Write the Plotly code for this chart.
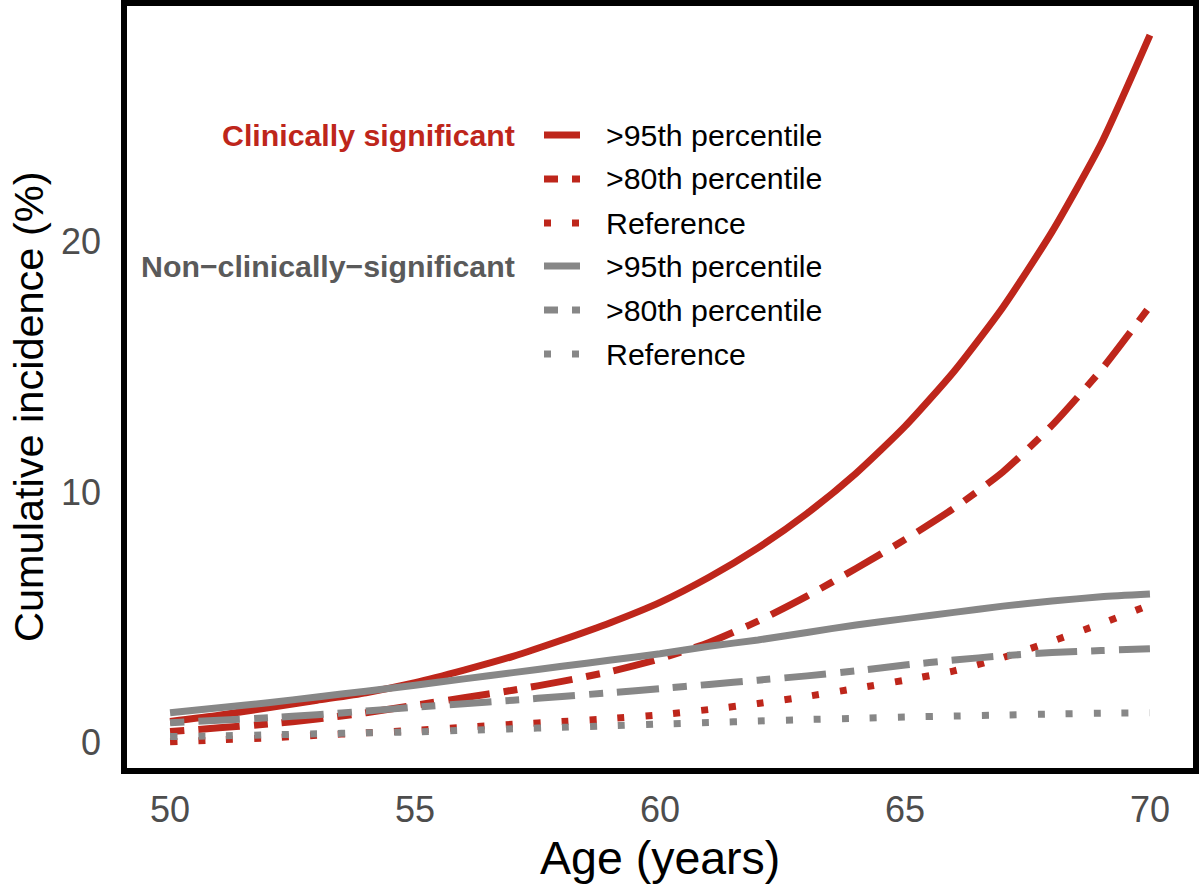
import plotly.graph_objects as go

# ---- data ----
age = [50, 51, 52, 53, 54, 55, 56, 57, 58, 59, 60, 61, 62, 63, 64, 65, 66, 67, 68, 69, 70]

cs_p95 = [0.85, 1.1, 1.4, 1.7, 2.0, 2.4, 2.9, 3.45, 4.1, 4.8, 5.6, 6.6, 7.77, 9.14, 10.74, 12.61, 14.8, 17.36, 20.36, 23.86, 28.2]
cs_p80 = [0.45, 0.6, 0.75, 0.95, 1.2, 1.5, 1.8, 2.1, 2.45, 2.85, 3.35, 4.0, 4.85, 5.85, 6.95, 8.1, 9.35, 10.8, 12.65, 14.85, 17.4]
cs_ref = [0.05, 0.12, 0.2, 0.3, 0.4, 0.5, 0.62, 0.74, 0.85, 0.97, 1.12, 1.33, 1.57, 1.85, 2.17, 2.5, 2.87, 3.4, 4.05, 4.75, 5.5]

ncs_p95 = [1.2, 1.4, 1.6, 1.83, 2.06, 2.3, 2.55, 2.8, 3.05, 3.3, 3.55, 3.85, 4.1, 4.4, 4.7, 4.95, 5.2, 5.45, 5.65, 5.82, 5.93]
ncs_p80 = [0.8, 0.9, 1.0, 1.12, 1.27, 1.42, 1.56, 1.7, 1.85, 2.0, 2.16, 2.33, 2.5, 2.67, 2.87, 3.1, 3.3, 3.47, 3.6, 3.68, 3.75]
ncs_ref = [0.25, 0.28, 0.32, 0.36, 0.4, 0.44, 0.5, 0.56, 0.62, 0.68, 0.75, 0.81, 0.87, 0.93, 0.98, 1.03, 1.07, 1.11, 1.15, 1.18, 1.2]

series_names = [">95th percentile", ">80th percentile", "Reference"]
group_labels = ["Clinically significant", "Non\u2212clinically\u2212significant"]
x_ticks = [50, 55, 60, 65, 70]
y_ticks = [0, 10, 20]

RED = "#BE261B"
GRAY = "#878787"
GROUP_GRAY = "#5A5A5A"
FONT = "Liberation Sans, Arial, Helvetica, sans-serif"
LW = 7
DASHES = ["solid", "14px,14px,42px,14px", "7px,21px"]

# figure geometry (pixels)
W, H = 1200, 888
ML, MR, MT, MB = 124, 4, 3, 117
PW, PH = W - ML - MR, H - MT - MB


def px_x(p):
    return (p - ML) / PW


def px_y(p):
    return (H - MB - p) / PH


fig = go.Figure()
groups = [(RED, [cs_p95, cs_p80, cs_ref]), (GRAY, [ncs_p95, ncs_p80, ncs_ref])]
for color, ys in groups:
    for name, y, dash in zip(series_names, ys, DASHES):
        fig.add_trace(go.Scatter(
            x=age, y=y, mode="lines", name=name, showlegend=False,
            line=dict(color=color, width=LW, dash=dash, shape="spline", smoothing=0.6),
            hoverinfo="x+y",
        ))

# ---- hand-built legend (group label to the left of the first row of each group) ----
row_px = [135, 179, 223, 266, 310, 354]
key_x0, key_x1, text_x, glabel_right = 544, 580, 604, 517
LEG_FONT = 30.3
shapes = [dict(type="rect", xref="paper", yref="paper", x0=0, x1=1, y0=0, y1=1,
               line=dict(color="black", width=6), fillcolor="rgba(0,0,0,0)", layer="above")]
annotations = []
i = 0
for gi, (color, ys) in enumerate(groups):
    for name, dash in zip(series_names, DASHES):
        yy = px_y(row_px[i])
        shapes.append(dict(type="line", xref="paper", yref="paper",
                           x0=px_x(key_x0), x1=px_x(key_x1), y0=yy, y1=yy,
                           line=dict(color=color, width=LW, dash=dash)))
        annotations.append(dict(text=name, xref="paper", yref="paper", x=px_x(text_x), y=yy,
                                xanchor="left", yanchor="middle", showarrow=False,
                                font=dict(size=LEG_FONT, color="black", family=FONT)))
        i += 1
    annotations.append(dict(text="<b>" + group_labels[gi] + "</b>", xref="paper", yref="paper",
                            x=px_x(glabel_right), y=px_y(row_px[gi * 3]),
                            xanchor="right", yanchor="middle", showarrow=False,
                            font=dict(size=LEG_FONT, color=RED if gi == 0 else GROUP_GRAY, family=FONT)))

annotations.append(dict(text="Age (years)", xref="paper", yref="paper", x=px_x(660), y=px_y(858),
                        xanchor="center", yanchor="middle", showarrow=False,
                        font=dict(size=46.5, color="black", family=FONT)))
annotations.append(dict(text="Cumulative incidence (%)", xref="paper", yref="paper",
                        x=px_x(28), y=px_y(407), xanchor="center", yanchor="middle",
                        textangle=-90, showarrow=False,
                        font=dict(size=41.5, color="black", family=FONT)))

fig.update_layout(
    width=W, height=H,
    margin=dict(l=ML, r=MR, t=MT, b=MB),
    paper_bgcolor="white", plot_bgcolor="white",
    font=dict(family=FONT, color="black"),
    showlegend=False,
    xaxis=dict(
        range=[49.06, 70.94], tickvals=x_ticks, ticks="", showgrid=False, zeroline=False,
        showline=False, tickfont=dict(size=36, color="#4D4D4D", family=FONT),
        ticklabelstandoff=14,
    ),
    yaxis=dict(
        range=[-1.12, 29.48], tickvals=y_ticks, ticks="", showgrid=False, zeroline=False,
        showline=False, tickfont=dict(size=36, color="#4D4D4D", family=FONT),
        ticklabelstandoff=22,
    ),
    shapes=shapes,
    annotations=annotations,
)

fig.write_html("out.html", config={"displayModeBar": False},
               post_script="document.body.style.margin='0px';")
